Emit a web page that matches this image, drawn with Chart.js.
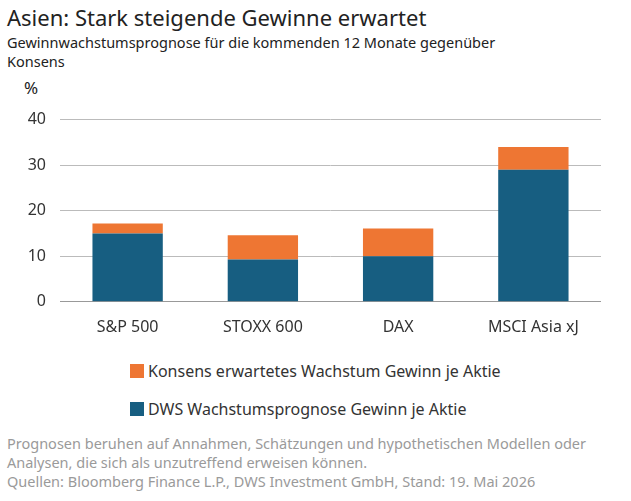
<!DOCTYPE html>
<html lang="de">
<head>
<meta charset="UTF-8">
<title>Asien: Stark steigende Gewinne erwartet</title>
<script src="https://cdn.jsdelivr.net/npm/chart.js"></script>
<style>
    body { margin: 0; width: 631px; height: 501px; font-family: "Noto Sans", sans-serif; color: #222; position: relative; overflow: hidden; }
    h1 { position: absolute; left: 7px; top: 2px; margin: 0; font-size: 22px; font-weight: normal; }
    .sub { position: absolute; left: 7px; top: 33px; font-size: 14.5px; line-height: 19px; width: 520px; }
    .unit { position: absolute; left: 24px; top: 76px; font-size: 17px; }
    #wrap { position: absolute; left: 0; top: 96px; width: 601px; height: 249px; }
    .legend { position: absolute; left: 130px; font-size: 16px; color: #333; }
    .legend span { display: inline-block; width: 14px; height: 14px; margin-right: 4px; vertical-align: -1px; }
    .note { position: absolute; left: 7px; top: 434px; font-size: 14.5px; line-height: 19px; color: #9a9a9a; width: 620px; }
</style>
</head>
<body>
    <h1>Asien: Stark steigende Gewinne erwartet</h1>
    <div class="sub">Gewinnwachstumsprognose für die kommenden 12 Monate gegenüber Konsens</div>
    <div class="unit">%</div>
    <div id="wrap"><canvas id="chart"></canvas></div>
    <div class="legend" style="top:360px"><span style="background:#ee7633"></span>Konsens erwartetes Wachstum Gewinn je Aktie</div>
    <div class="legend" style="top:398px"><span style="background:#175e81"></span>DWS Wachstumsprognose Gewinn je Aktie</div>
    <div class="note">Prognosen beruhen auf Annahmen, Schätzungen und hypothetischen Modellen oder Analysen, die sich als unzutreffend erweisen können.<br>Quellen: Bloomberg Finance L.P., DWS Investment GmbH, Stand: 19. Mai 2026</div>
    <script>
        let categories = ["S&P 500", "STOXX 600", "DAX", "MSCI Asia xJ"];
        let dwsValues = [15, 9.3, 10, 29];
        let konsensExtra = [2.2, 5.3, 6.1, 5];
        let yTicks = [0, 10, 20, 30, 40];

        new Chart(document.getElementById("chart"), {
            type: "bar",
            data: {
                labels: categories,
                datasets: [
                    { label: "DWS", data: dwsValues, backgroundColor: "#175e81", barPercentage: 0.52, categoryPercentage: 1 },
                    { label: "Konsens", data: konsensExtra, backgroundColor: "#ee7633", barPercentage: 0.52, categoryPercentage: 1 }
                ]
            },
            options: {
                responsive: true,
                maintainAspectRatio: false,
                animation: false,
                layout: { padding: { top: 8, right: 0 } },
                plugins: { legend: { display: false }, tooltip: { enabled: false } },
                scales: {
                    x: {
                        stacked: true,
                        grid: { display: false },
                        border: { color: "#999" },
                        ticks: { color: "#333", font: { size: 16, family: "Noto Sans" }, padding: 8 }
                    },
                    y: {
                        stacked: true,
                        min: 0, max: 40,
                        afterBuildTicks: s => { s.ticks = yTicks.map(v => ({ value: v })); },
                        afterFit: s => { s.width = 60; },
                        grid: { color: "#bbb", drawTicks: false },
                        border: { display: false },
                        ticks: { color: "#333", font: { size: 16, family: "Noto Sans" }, padding: 14 }
                    }
                }
            }
        });
    </script>
</body>
</html>
